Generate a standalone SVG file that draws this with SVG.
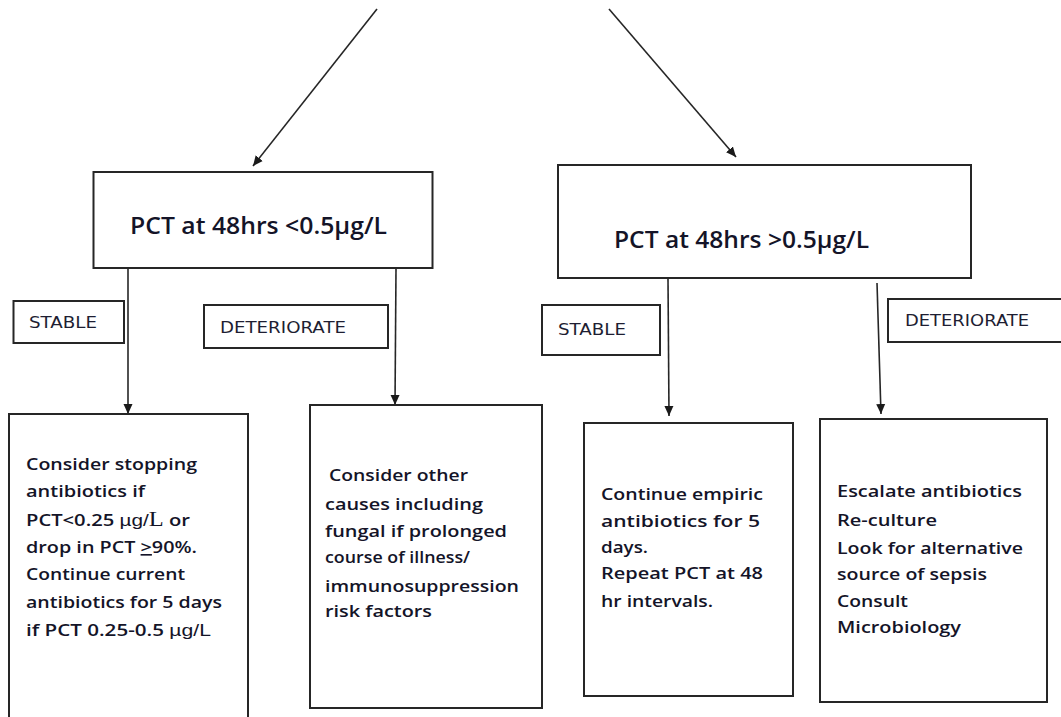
<svg xmlns="http://www.w3.org/2000/svg" width="1061" height="717" viewBox="0 0 1061 717">
<defs>
<style>
.box{fill:#fff;stroke:#262626;stroke-width:2}
.lbl{fill:#fff;stroke:#262626;stroke-width:2}
.ln{fill:none;stroke:#262626;stroke-width:1.6}
.main{font-family:"Open Sans","Liberation Sans",sans-serif;font-weight:600;font-size:24px;fill:#141428}
.body{font-family:"Open Sans","Liberation Sans",sans-serif;font-weight:600;font-size:16.5px;fill:#141428}
.tag{font-family:"DejaVu Sans","Liberation Sans",sans-serif;font-size:15px;fill:#1e1e32}
.thin{font-family:"Liberation Sans",sans-serif;font-weight:400;font-size:17px}
.ser{font-family:"Liberation Serif",serif;font-weight:400;font-size:20px}
</style>
<marker id="ah" markerUnits="userSpaceOnUse" markerWidth="10" markerHeight="10" refX="10" refY="5" orient="auto" viewBox="0 0 10 10">
<path d="M0,0.5 L10,5 L0,9.5 z" fill="#1a1a1a"/>
</marker>
</defs>
<rect width="1061" height="717" fill="#fff"/>
<g id="connectors">
<line class="ln" x1="377" y1="9" x2="253" y2="166" marker-end="url(#ah)"/>
<line class="ln" x1="609" y1="9" x2="736" y2="157" marker-end="url(#ah)"/>
<line class="ln" x1="128" y1="269" x2="128" y2="414" marker-end="url(#ah)"/>
<line class="ln" x1="396" y1="269" x2="395" y2="405" marker-end="url(#ah)"/>
<line class="ln" x1="668" y1="279" x2="669" y2="416" marker-end="url(#ah)"/>
<line class="ln" x1="877" y1="283" x2="881" y2="414" marker-end="url(#ah)"/>
</g>
<g id="pct-low">
<rect class="box" x="93.5" y="172" width="339" height="96"/>
<text class="main" x="130" y="234" textLength="257" lengthAdjust="spacingAndGlyphs">PCT at 48hrs &lt;0.5µg/L</text>
</g>
<g id="pct-high">
<rect class="box" x="558" y="165" width="413" height="113"/>
<text class="main" x="614" y="248" textLength="255" lengthAdjust="spacingAndGlyphs">PCT at 48hrs &gt;0.5µg/L</text>
</g>
<g id="stable-left">
<rect class="lbl" x="13.5" y="301" width="110.5" height="42"/>
<text class="tag" x="29" y="328" textLength="68" lengthAdjust="spacingAndGlyphs">STABLE</text>
</g>
<g id="deteriorate-left">
<rect class="lbl" x="204" y="305" width="184" height="43"/>
<text class="tag" x="220" y="333" textLength="126" lengthAdjust="spacingAndGlyphs">DETERIORATE</text>
</g>
<g id="stable-right">
<rect class="lbl" x="542" y="305" width="118" height="50"/>
<text class="tag" x="558" y="335" textLength="68" lengthAdjust="spacingAndGlyphs">STABLE</text>
</g>
<g id="deteriorate-right">
<rect class="lbl" x="888" y="299" width="190" height="43"/>
<text class="tag" x="905" y="326" textLength="124" lengthAdjust="spacingAndGlyphs">DETERIORATE</text>
</g>
<g id="stop-antibiotics">
<rect class="box" x="9" y="414" width="239" height="320"/>
<text class="body" x="26" y="470" textLength="171" lengthAdjust="spacingAndGlyphs">Consider stopping</text>
<text class="body" x="26" y="497" textLength="119" lengthAdjust="spacingAndGlyphs">antibiotics if</text>
<text class="body" x="26" y="526" textLength="164" lengthAdjust="spacingAndGlyphs">PCT&lt;0.25 <tspan class="thin">µg/</tspan><tspan class="ser">L</tspan> or</text>
<text class="body" x="26" y="553" textLength="171" lengthAdjust="spacingAndGlyphs">drop in PCT <tspan text-decoration="underline">&gt;</tspan>90%.</text>
<text class="body" x="26" y="580" textLength="159" lengthAdjust="spacingAndGlyphs">Continue current</text>
<text class="body" x="26" y="608" textLength="196" lengthAdjust="spacingAndGlyphs">antibiotics for 5 days</text>
<text class="body" x="26" y="636" textLength="185" lengthAdjust="spacingAndGlyphs">if PCT 0.25-0.5 <tspan class="thin">µg/L</tspan></text>
</g>
<g id="other-causes">
<rect class="box" x="310" y="405" width="232" height="303"/>
<text class="body" x="329" y="481" textLength="139" lengthAdjust="spacingAndGlyphs">Consider other</text>
<text class="body" x="325" y="510" textLength="158" lengthAdjust="spacingAndGlyphs">causes including</text>
<text class="body" x="325" y="537" textLength="182" lengthAdjust="spacingAndGlyphs">fungal if prolonged</text>
<text class="body" x="325" y="563" textLength="145" lengthAdjust="spacingAndGlyphs">course of illness/</text>
<text class="body" x="325" y="592" textLength="194" lengthAdjust="spacingAndGlyphs">immunosuppression</text>
<text class="body" x="325" y="617" textLength="107" lengthAdjust="spacingAndGlyphs">risk factors</text>
</g>
<g id="continue-empiric">
<rect class="box" x="584" y="423" width="209" height="273"/>
<text class="body" x="601" y="500" textLength="162" lengthAdjust="spacingAndGlyphs">Continue empiric</text>
<text class="body" x="601" y="527" textLength="159" lengthAdjust="spacingAndGlyphs">antibiotics for 5</text>
<text class="body" x="601" y="553" textLength="47" lengthAdjust="spacingAndGlyphs">days.</text>
<text class="body" x="601" y="579" textLength="162" lengthAdjust="spacingAndGlyphs">Repeat PCT at 48</text>
<text class="body" x="601" y="607" textLength="112" lengthAdjust="spacingAndGlyphs">hr intervals.</text>
</g>
<g id="escalate">
<rect class="box" x="820" y="419" width="227" height="283"/>
<text class="body" x="837" y="497" textLength="185" lengthAdjust="spacingAndGlyphs">Escalate antibiotics</text>
<text class="body" x="837" y="526" textLength="100" lengthAdjust="spacingAndGlyphs">Re-culture</text>
<text class="body" x="837" y="554" textLength="186" lengthAdjust="spacingAndGlyphs">Look for alternative</text>
<text class="body" x="837" y="580" textLength="150" lengthAdjust="spacingAndGlyphs">source of sepsis</text>
<text class="body" x="837" y="607" textLength="71" lengthAdjust="spacingAndGlyphs">Consult</text>
<text class="body" x="837" y="633" textLength="124" lengthAdjust="spacingAndGlyphs">Microbiology</text>
</g>
</svg>
